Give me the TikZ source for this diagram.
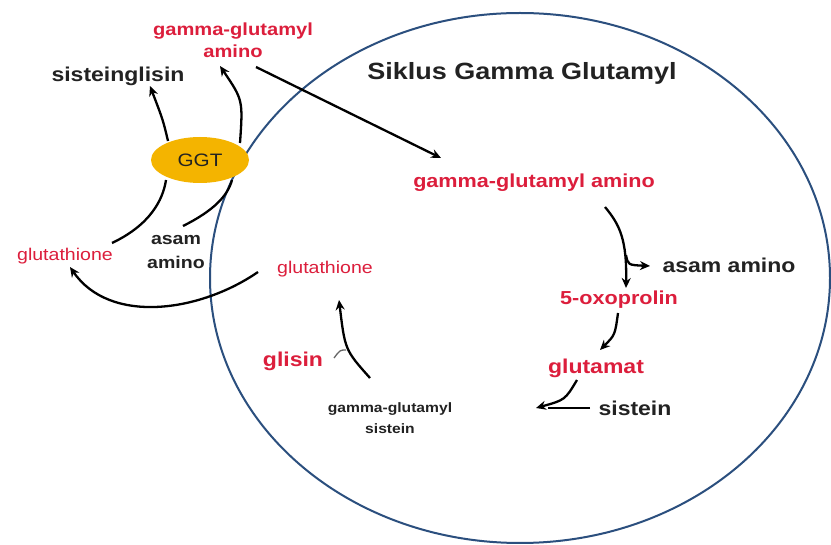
\documentclass[tikz,border=0pt]{standalone}
\usepackage{fontspec}
\setmainfont{Liberation Sans}
\newfontfamily\wf[FakeStretch=1.15]{Liberation Sans}
\usetikzlibrary{shapes.geometric,arrows.meta}
\definecolor{cred}{HTML}{DC1E3C}
\definecolor{cblk}{HTML}{222222}
\definecolor{cblue}{HTML}{2B4F7E}
\definecolor{cggt}{HTML}{F4B400}
\tikzset{
  redb/.style={inner sep=0pt,text=cred,font=\wf\bfseries},
  redr/.style={inner sep=0pt,text=cred,font=\wf},
  blkb/.style={inner sep=0pt,text=cblk,font=\wf\bfseries},
  arr/.style={draw=black,line width=2.3pt,-{Stealth[length=10pt,width=9pt]}},
  lnk/.style={draw=black,line width=2.3pt},
  cyc/.style={draw=cblue,line width=2pt},
  ggtbox/.style={ellipse,fill=cggt,draw=none,minimum width=98pt,minimum height=46pt,inner sep=0pt,text=cblk,font=\wf\fontsize{18}{20}\selectfont}
}
\begin{document}
\begin{tikzpicture}[x=1pt,y=-1pt]
\useasboundingbox[fill=white] (0,0) rectangle (831,545);
\draw[cyc] (520,278) ellipse [x radius=310, y radius=265];

\node[ggtbox] (ggt) at (200,160) {GGT};
\node[redb,align=center,font=\wf\bfseries\fontsize{17.5}{21.5}\selectfont] (ga1) at (233,40) {gamma-glutamyl\\amino};
\node[blkb,font=\wf\bfseries\fontsize{20}{24}\selectfont] (sg) at (118,76) {sisteinglisin};
\node[redr,font=\wf\fontsize{17}{20}\selectfont] (glL) at (65,256) {glutathione};
\node[blkb,align=center,font=\wf\bfseries\fontsize{17}{23.5}\selectfont] (aaL) at (176,252) {asam\\amino};
\node[redr,font=\wf\fontsize{17}{20}\selectfont] (glM) at (325,269) {glutathione};
\node[blkb,font=\wf\bfseries\fontsize{23.5}{28}\selectfont] (title) at (522,73) {Siklus Gamma Glutamyl};
\node[redb,font=\wf\bfseries\fontsize{18.8}{22}\selectfont] (ga2) at (534,183) {gamma-glutamyl amino};
\node[blkb,font=\wf\bfseries\fontsize{20}{24}\selectfont] (aaR) at (729,265) {asam amino};
\node[redb,font=\wf\bfseries\fontsize{18.8}{22}\selectfont] (oxo) at (619,300) {5-oxoprolin};
\node[redb,font=\wf\bfseries\fontsize{20}{24}\selectfont] (glu) at (596,368) {glutamat};
\node[blkb,font=\wf\bfseries\fontsize{20}{24}\selectfont] (sis) at (635,408) {sistein};
\node[blkb,align=center,font=\wf\bfseries\fontsize{13.6}{21}\selectfont] (gcs) at (390,418) {gamma-glutamyl\\sistein};
\node[redb,font=\wf\bfseries\fontsize{20}{24}\selectfont] (gly) at (293,361) {glisin};

% connector end points
\coordinate (g1) at (168,141);
\coordinate (g2) at (240,143);
\coordinate (g3) at (166,180);
\coordinate (g4) at (232,180);
\coordinate (sgT) at (150,86);
\coordinate (ga1T) at (220,66);
\coordinate (ga1S) at (256,67);
\coordinate (ga2T) at (441,158);
\coordinate (glLS) at (112,243);
\coordinate (aaLS) at (183,226);
\coordinate (glMS) at (258,272);
\coordinate (glLT) at (70,267);
\coordinate (ga2S) at (605,207);
\coordinate (oxoT) at (626,288);
\coordinate (br) at (626,255);
\coordinate (aaRT) at (650,266);
\coordinate (oxoS) at (618,313);
\coordinate (gluT) at (600,350);
\coordinate (gluS) at (577,380);
\coordinate (gcsT) at (536,408);
\coordinate (sisS) at (590,408);
\coordinate (sisE) at (548,408);
\coordinate (gcsS) at (370,378);
\coordinate (glMT) at (339,300);
\coordinate (glyS) at (334,358);
\coordinate (glyE) at (346,350);

\draw[arr] (g1) .. controls (163,120) .. (sgT);
\draw[arr] (g2) .. controls (243,100) .. (ga1T);
\draw[arr] (ga1S) -- (ga2T);
\draw[lnk] (glLS) .. controls (150,225) and (163,200) .. (g3);
\draw[lnk] (aaLS) .. controls (215,210) and (228,195) .. (g4);
\draw[arr] (glMS) .. controls (200,312) and (110,325) .. (glLT);
\draw[arr] (ga2S) .. controls (620,225) and (627,240) .. (oxoT);
\draw[arr] (br) .. controls (628,265) .. (aaRT);
\draw[arr] (oxoS) .. controls (615,335) .. (gluT);
\draw[arr] (gluS) .. controls (565,400) .. (gcsT);
\draw[lnk,line width=1.8pt] (sisS) -- (sisE);
\draw[arr] (gcsS) .. controls (345,350) .. (glMT);
\draw[draw=black!60,line width=1.3pt] (glyS) .. controls (340,350) .. (glyE);
\end{tikzpicture}
\end{document}
